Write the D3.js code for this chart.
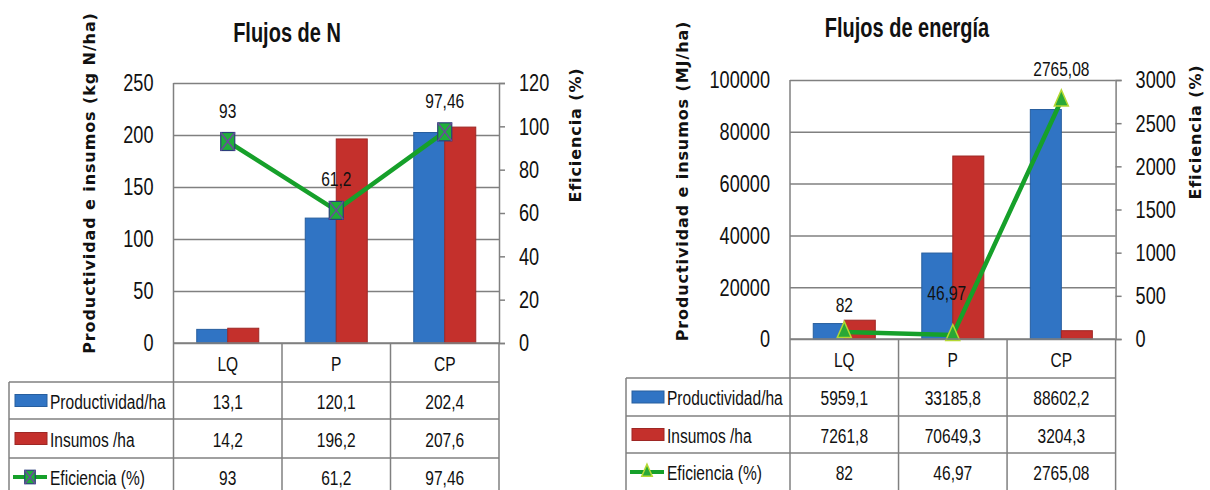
<!DOCTYPE html>
<html>
<head>
<meta charset="utf-8">
<script src="https://cdn.jsdelivr.net/npm/d3@7"></script>
<style>
  body { margin: 0; background: #fff; }
  .nar { font-family: "Liberation Sans", Arial, sans-serif; fill: #111; }
  .axtitle { font-family: "DejaVu Sans", Verdana, sans-serif; font-weight: bold; font-size: 16px; letter-spacing: 0.9px; fill: #111; }
</style>
</head>
<body>
<svg id="chart" width="1210" height="490"></svg>
<script>
// data
var categories = ["LQ", "P", "CP"];
var seriesNames = ["Productividad/ha", "Insumos /ha", "Eficiencia (%)"];

var nProductividad = [13.1, 120.1, 202.4];
var nInsumos = [14.2, 196.2, 207.6];
var nEficiencia = [93, 61.2, 97.46];
var nLeftTicks = [0, 50, 100, 150, 200, 250];
var nRightTicks = [0, 20, 40, 60, 80, 100, 120];

var eProductividad = [5959.1, 33185.8, 88602.2];
var eInsumos = [7261.8, 70649.3, 3204.3];
var eEficiencia = [82, 46.97, 2765.08];
var eLeftTicks = [0, 20000, 40000, 60000, 80000, 100000];
var eRightTicks = [0, 500, 1000, 1500, 2000, 2500, 3000];

var BLUE = "#3074c4", RED = "#c4302c", GREEN = "#16a02a", GRID = "#808080";
var SQ = 0.74;   // horizontal squeeze of the narrow text

function fmt(v) { return String(v).replace(".", ","); }

var svg = d3.select("#chart");

// narrow text placed at x,y
function ntext(g, x, y, str, size, anchor) {
    return g.append("text").attr("class", "nar")
            .attr("transform", "translate(" + x + "," + y + ") scale(" + SQ + ",1)")
            .attr("text-anchor", anchor || "start")
            .style("font-size", size + "px")
            .text(str);
}

function squeezeAxis(ax, pad) {
    ax.selectAll("text").attr("class", "nar").style("font-size", "24.5px").attr("fill", "#111")
            .attr("x", pad / SQ)
            .attr("transform", "scale(" + SQ + ",1)");
}

function drawChart(o) {
    var g = svg.append("g");
    var width = o.x1 - o.x0;

    var x = d3.scaleBand().domain(categories).range([o.x0, o.x1]);
    var xs = d3.scaleBand().domain([0, 1]).range([0, x.bandwidth()]).paddingOuter(0.75);
    var y = d3.scaleLinear().domain([0, d3.max(o.leftTicks)]).range([o.yBot, o.yTop]);
    var y2 = d3.scaleLinear().domain([0, d3.max(o.rightTicks)]).range([o.yBot, o.yTop]);

    // gridlines + left labels
    var ax = g.append("g")
            .attr("transform", "translate(" + o.x0 + ",0)")
            .call(d3.axisLeft(y).tickValues(o.leftTicks).tickSize(-width).tickFormat(d3.format("d")));
    ax.select(".domain").remove();
    ax.selectAll("line").attr("stroke", GRID).attr("stroke-width", 1.5);
    squeezeAxis(ax, -20);

    // plot frame left
    g.append("line").attr("x1", o.x0).attr("x2", o.x0).attr("y1", o.yTop).attr("y2", o.rowEdges[3])
            .attr("stroke", GRID).attr("stroke-width", 1.5);

    // bars
    var sets = [o.prod, o.ins];
    var colors = [BLUE, RED];
    sets.forEach(function (vals, si) {
        g.selectAll(null).data(vals).enter().append("rect")
                .attr("x", function (d, i) { return x(categories[i]) + xs(si); })
                .attr("width", xs.bandwidth())
                .attr("y", function (d) { return y(d); })
                .attr("height", function (d) { return o.yBot - y(d); })
                .attr("fill", colors[si])
                .attr("stroke", d3.color(colors[si]).darker(0.6))
                .attr("stroke-width", 1);
    });

    // right axis
    var ax2 = g.append("g")
            .attr("transform", "translate(" + o.x1 + ",0)")
            .call(d3.axisRight(y2).tickValues(o.rightTicks).tickSize(6).tickFormat(d3.format("d")));
    ax2.select(".domain").attr("stroke", GRID).attr("stroke-width", 1.5);
    ax2.selectAll("line").attr("stroke", GRID).attr("stroke-width", 1.5);
    squeezeAxis(ax2, 20);

    // line
    var line = d3.line()
            .x(function (d, i) { return x(categories[i]) + x.bandwidth() / 2; })
            .y(function (d) { return y2(d); });
    g.append("path").datum(o.eff).attr("d", line)
            .attr("fill", "none").attr("stroke", GREEN).attr("stroke-width", 4.5);

    o.eff.forEach(function (d, i) {
        var cx = x(categories[i]) + x.bandwidth() / 2, cy = y2(d);
        drawMarker(g, o.marker, cx, cy, 1);
        ntext(g, cx + o.labelDx[i], cy - o.labelDy[i], fmt(d), 21, "middle");
    });

    // table
    var tl = o.tableLeft;
    var rows = o.rowEdges; // header bottom, row1 bottom, row2 bottom, row3 bottom
    [0, 1, 2].forEach(function (k) {
        g.append("line").attr("x1", tl).attr("x2", o.x1).attr("y1", rows[k]).attr("y2", rows[k])
                .attr("stroke", GRID).attr("stroke-width", 1.5);
    });
    g.append("line").attr("x1", tl).attr("x2", tl).attr("y1", rows[0]).attr("y2", rows[3])
            .attr("stroke", GRID).attr("stroke-width", 1.5);
    categories.forEach(function (c, i) {
        var xr = x(c) + x.bandwidth();
        g.append("line").attr("x1", xr).attr("x2", xr).attr("y1", o.yBot).attr("y2", rows[3])
                .attr("stroke", GRID).attr("stroke-width", 1.5);
        ntext(g, x(c) + x.bandwidth() / 2, (o.yBot + rows[0]) / 2 + 8, c, 21, "middle");
    });
    g.append("line").attr("x1", o.x0).attr("x2", o.x1).attr("y1", o.yBot).attr("y2", o.yBot)
            .attr("stroke", GRID).attr("stroke-width", 1.5);

    var rowVals = [o.prod, o.ins, o.eff];
    rowVals.forEach(function (vals, r) {
        var cy = (rows[r] + rows[r + 1]) / 2;
        // legend key
        if (r < 2) {
            g.append("rect").attr("x", tl + 6).attr("y", cy - 6).attr("width", 32).attr("height", 12)
                    .attr("fill", colors[r]).attr("stroke", d3.color(colors[r]).darker(0.6));
        } else {
            g.append("line").attr("x1", tl + 4).attr("x2", tl + 38).attr("y1", cy).attr("y2", cy)
                    .attr("stroke", GREEN).attr("stroke-width", 4);
            drawMarker(g, o.marker, tl + 21, cy, 0.75);
        }
        ntext(g, tl + 41, cy + 8, seriesNames[r], 21);
        vals.forEach(function (v, i) {
            ntext(g, x(categories[i]) + x.bandwidth() / 2, cy + 8, fmt(v), 21, "middle");
        });
    });

    // titles
    ntext(g, o.titleX, o.titleY, o.title, 27, "middle").style("font-weight", "bold");
    g.append("text").attr("class", "axtitle")
            .attr("transform", "translate(" + o.yTitleX + "," + o.yTitleY + ") rotate(-90)")
            .attr("dy", "0.35em").attr("text-anchor", "middle").text(o.yTitle);
    g.append("text").attr("class", "axtitle")
            .attr("transform", "translate(" + o.y2TitleX + "," + o.y2TitleY + ") rotate(-90)")
            .attr("dy", "0.35em").attr("text-anchor", "middle").text("Eficiencia (%)");
}

function drawMarker(g, type, cx, cy, s) {
    if (type === "square") {
        var w = 14 * s, h = 18 * s;
        g.append("rect").attr("x", cx - w / 2).attr("y", cy - h / 2).attr("width", w).attr("height", h)
                .attr("fill", "#1fae3a").attr("stroke", "#2b3f7a").attr("stroke-width", 1.2);
        g.append("path")
                .attr("d", "M" + (cx - w / 2) + "," + (cy - h / 2) + "L" + (cx + w / 2) + "," + (cy + h / 2) +
                        "M" + (cx + w / 2) + "," + (cy - h / 2) + "L" + (cx - w / 2) + "," + (cy + h / 2))
                .attr("stroke", "#6a4a9c").attr("stroke-width", 1.5);
    } else {
        var tw = 14 * s, th = 16 * s;
        g.append("path")
                .attr("d", "M" + cx + "," + (cy - th * 0.65) + "L" + (cx + tw / 2) + "," + (cy + th * 0.35) +
                        "L" + (cx - tw / 2) + "," + (cy + th * 0.35) + "Z")
                .attr("fill", "#2aa836").attr("stroke", "#b5d832").attr("stroke-width", 1.5);
    }
}

drawChart({
    x0: 173.5, x1: 499, yTop: 83, yBot: 343,
    prod: nProductividad, ins: nInsumos, eff: nEficiencia,
    leftTicks: nLeftTicks, rightTicks: nRightTicks,
    marker: "square", labelDx: [0, 0, 0], labelDy: [24, 24, 24],
    tableLeft: 9, rowEdges: [382, 419, 458, 496],
    title: "Flujos de N", titleX: 287, titleY: 42,
    yTitle: "Productividad e insumos (kg N/ha)", yTitleX: 89, yTitleY: 183,
    y2TitleX: 575, y2TitleY: 135
});

drawChart({
    x0: 790, x1: 1115.6, yTop: 80, yBot: 339,
    prod: eProductividad, ins: eInsumos, eff: eEficiencia,
    leftTicks: eLeftTicks, rightTicks: eRightTicks,
    marker: "triangle", labelDx: [0, -6, 0], labelDy: [20, 35, 24],
    tableLeft: 626, rowEdges: [378, 416, 453, 491],
    title: "Flujos de energía", titleX: 907, titleY: 37,
    yTitle: "Productividad e insumos (MJ/ha)", yTitleX: 682, yTitleY: 181,
    y2TitleX: 1195, y2TitleY: 132
});
</script>
</body>
</html>
